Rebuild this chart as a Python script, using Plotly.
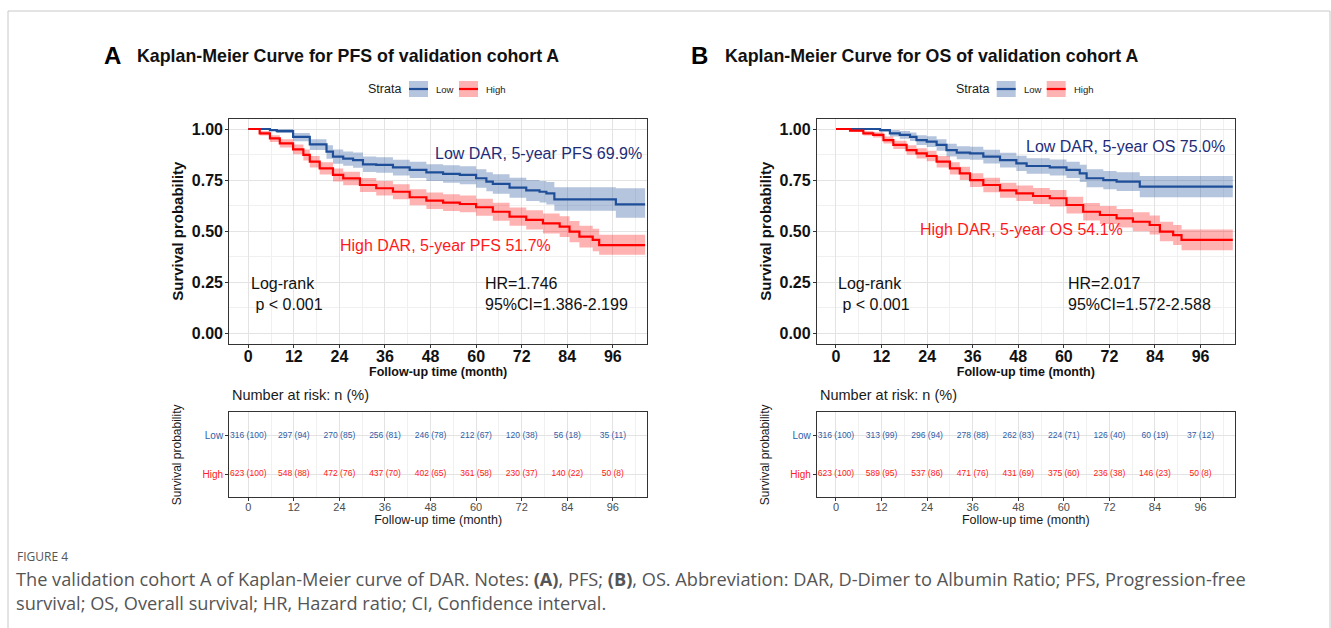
import plotly.graph_objects as go

W, H = 1331, 628

# ---------------- Kaplan-Meier estimates (months, survival probability) ----------------
# Panel A: progression-free survival
pfs_low_time = [0, 5.7, 7.5, 11.8, 16.2, 20.6, 22.3, 25, 27.6, 30.2, 33.7, 38.1, 42.5, 46.9,
                51.3, 55.7, 60, 62.7, 64.4, 68.8, 73.2, 76.7, 78.5, 80.6, 96.8, 104.5]
pfs_low_surv = [1.0, 0.995, 0.99, 0.962, 0.925, 0.889, 0.865, 0.855, 0.848, 0.827, 0.824, 0.812,
                0.80, 0.788, 0.78, 0.775, 0.759, 0.742, 0.731, 0.713, 0.70, 0.693, 0.685, 0.656,
                0.631, 0.631]
pfs_low_upper = [1.0, 1.0, 1.0, 0.98, 0.95, 0.92, 0.90, 0.89, 0.885, 0.865, 0.862, 0.85, 0.84,
                 0.828, 0.822, 0.818, 0.803, 0.788, 0.778, 0.762, 0.751, 0.745, 0.74, 0.715,
                 0.71, 0.71]
pfs_low_lower = [1.0, 0.99, 0.98, 0.94, 0.897, 0.855, 0.83, 0.82, 0.81, 0.79, 0.786, 0.773,
                 0.76, 0.746, 0.737, 0.73, 0.713, 0.695, 0.683, 0.663, 0.648, 0.64, 0.63, 0.60,
                 0.566, 0.566]

pfs_high_time = [0, 3, 5.7, 8.3, 11.8, 14.5, 16.2, 18.8, 22.3, 25, 29.4, 33.7, 38.1, 42.5, 46.9,
                 51.3, 55.7, 60, 64.4, 68.8, 73.2, 77.6, 82, 84.6, 87.2, 90.7, 92.4, 104.5]
pfs_high_surv = [1.0, 0.979, 0.954, 0.93, 0.90, 0.873, 0.84, 0.807, 0.775, 0.758, 0.726, 0.71,
                 0.693, 0.666, 0.649, 0.64, 0.633, 0.617, 0.595, 0.571, 0.555, 0.538, 0.522,
                 0.498, 0.473, 0.457, 0.432, 0.432]
pfs_high_upper = [1.0, 0.99, 0.97, 0.95, 0.924, 0.90, 0.868, 0.837, 0.807, 0.791, 0.76, 0.746,
                  0.73, 0.705, 0.689, 0.681, 0.674, 0.659, 0.639, 0.616, 0.602, 0.587, 0.573,
                  0.55, 0.526, 0.512, 0.482, 0.482]
pfs_high_lower = [1.0, 0.968, 0.937, 0.91, 0.876, 0.846, 0.812, 0.777, 0.743, 0.725, 0.692,
                  0.674, 0.656, 0.627, 0.609, 0.599, 0.592, 0.575, 0.551, 0.526, 0.508, 0.489,
                  0.471, 0.446, 0.42, 0.402, 0.385, 0.385]

# Panel B: overall survival
os_low_time = [0, 11.6, 14.2, 16.8, 19.5, 21.2, 23.9, 26.5, 29.1, 31.8, 35.3, 38.8, 43.2, 47.5,
               50.2, 56.3, 60.7, 64.2, 66, 70.4, 73.9, 80, 104.5]
os_low_surv = [1.0, 0.995, 0.979, 0.971, 0.962, 0.946, 0.938, 0.922, 0.897, 0.884, 0.881, 0.865,
               0.848, 0.832, 0.819, 0.812, 0.80, 0.783, 0.759, 0.75, 0.742, 0.718, 0.718]
os_low_upper = [1.0, 1.0, 0.995, 0.99, 0.983, 0.97, 0.964, 0.95, 0.928, 0.916, 0.913, 0.899,
                0.884, 0.869, 0.857, 0.851, 0.84, 0.825, 0.803, 0.795, 0.788, 0.77, 0.77]
os_low_lower = [1.0, 0.987, 0.963, 0.952, 0.941, 0.922, 0.912, 0.894, 0.866, 0.852, 0.849,
                0.831, 0.812, 0.795, 0.781, 0.773, 0.76, 0.741, 0.715, 0.705, 0.696, 0.666,
                0.666]

os_high_time = [0, 3.7, 7.2, 9.8, 12.5, 15.1, 18.6, 21.2, 23.9, 26.5, 30, 32.6, 35.3, 38.8, 43.2,
                47.5, 51.9, 56.3, 60.7, 65.1, 69.5, 73.9, 78.2, 82.6, 85.3, 88.8, 91, 104.5]
os_high_surv = [1.0, 0.992, 0.979, 0.971, 0.946, 0.922, 0.897, 0.881, 0.868, 0.84, 0.807, 0.783,
                0.75, 0.726, 0.70, 0.685, 0.672, 0.661, 0.628, 0.595, 0.579, 0.563, 0.546, 0.53,
                0.498, 0.481, 0.457, 0.457]
os_high_upper = [1.0, 0.999, 0.99, 0.984, 0.963, 0.942, 0.92, 0.906, 0.894, 0.868, 0.837, 0.815,
                 0.784, 0.761, 0.737, 0.723, 0.711, 0.701, 0.669, 0.638, 0.623, 0.608, 0.592,
                 0.577, 0.546, 0.53, 0.508, 0.508]
os_high_lower = [1.0, 0.985, 0.968, 0.958, 0.929, 0.902, 0.874, 0.856, 0.842, 0.812, 0.777,
                 0.751, 0.716, 0.691, 0.663, 0.647, 0.633, 0.621, 0.587, 0.552, 0.535, 0.518,
                 0.50, 0.483, 0.45, 0.432, 0.406, 0.406]

# ---------------- Number at risk ----------------
risk_times = [0, 12, 24, 36, 48, 60, 72, 84, 96]
pfs_low_n = [316, 297, 270, 256, 246, 212, 120, 56, 35]
pfs_low_pct = [100, 94, 85, 81, 78, 67, 38, 18, 11]
pfs_high_n = [623, 548, 472, 437, 402, 361, 230, 140, 50]
pfs_high_pct = [100, 88, 76, 70, 65, 58, 37, 22, 8]
os_low_n = [316, 313, 296, 278, 262, 224, 126, 60, 37]
os_low_pct = [100, 99, 94, 88, 83, 71, 40, 19, 12]
os_high_n = [623, 589, 537, 471, 431, 375, 236, 146, 50]
os_high_pct = [100, 95, 86, 76, 69, 60, 38, 23, 8]

strata = ["Low", "High"]
y_ticks = [0, 0.25, 0.5, 0.75, 1.0]
y_tick_labels = ["0.00", "0.25", "0.50", "0.75", "1.00"]

# ---------------- Styling ----------------
FONT = "Liberation Sans, Arial, Helvetica, sans-serif"
CAP_FONT = "Open Sans, Noto Sans, sans-serif"
BLUE = "#1F4E99"
BLUE_FILL = "rgba(31,78,153,0.33)"
RED = "#FF0000"
RED_FILL = "rgba(255,0,0,0.30)"
BLUE_TXT = "#1E2C78"
RED_TXT = "#FF1A1A"
RISK_BLUE = "#2F5DA8"
RISK_RED = "#FF2020"
GRID = "#E3E3E3"
GRID_MINOR = "#F0F0F0"
FRAME = "#333333"

panel_dx = 587.7  # horizontal offset of panel B relative to panel A (px)


def px_x(p):
    return p / W


def px_y(p):
    return 1 - p / H


main_x_dom = (229.3, 647.0)
main_y_dom = (118.8, 343.5)
risk_y_dom = (412.3, 497.3)

panels = [
    dict(
        main=("x", "y"), risk=("x2", "y2"), dx=0.0,
        letter="A", title="Kaplan-Meier Curve for PFS of validation cohort A",
        low=(pfs_low_time, pfs_low_surv, pfs_low_lower, pfs_low_upper),
        high=(pfs_high_time, pfs_high_surv, pfs_high_lower, pfs_high_upper),
        low_risk=(pfs_low_n, pfs_low_pct), high_risk=(pfs_high_n, pfs_high_pct),
        low_label=("Low DAR, 5-year PFS 69.9%", 48.6, 0.882),
        high_label=("High DAR, 5-year PFS 51.7%", 23.7, 0.432),
        logrank_x=0.3, hr_x=61.9,
        hr_text="HR=1.746<br>95%CI=1.386-2.199",
    ),
    dict(
        main=("x3", "y3"), risk=("x4", "y4"), dx=panel_dx,
        letter="B", title="Kaplan-Meier Curve for OS of validation cohort A",
        low=(os_low_time, os_low_surv, os_low_lower, os_low_upper),
        high=(os_high_time, os_high_surv, os_high_lower, os_high_upper),
        low_risk=(os_low_n, os_low_pct), high_risk=(os_high_n, os_high_pct),
        low_label=("Low DAR, 5-year OS 75.0%", 49.5, 0.913),
        high_label=("High DAR, 5-year OS 54.1%", 21.6, 0.506),
        logrank_x=0.0, hr_x=60.7,
        hr_text="HR=2.017<br>95%CI=1.572-2.588",
    ),
]

fig = go.Figure()
annotations = []
shapes = []
layout_axes = {}


def axis_key(ref, kind):
    # "x" -> "xaxis", "x3" -> "xaxis3"
    return kind + "axis" + ref[1:]


for p in panels:
    xm, ym = p["main"]
    xr, yr = p["risk"]
    dx = p["dx"]

    # confidence bands, then survival curves
    for (t, s, lo, up), line_c, fill_c in ((p["low"], BLUE, BLUE_FILL), (p["high"], RED, RED_FILL)):
        fig.add_trace(go.Scatter(x=t, y=lo, xaxis=xm, yaxis=ym, mode="lines", line_shape="hv",
                                 line=dict(width=0, color=fill_c), showlegend=False,
                                 hoverinfo="skip"))
        fig.add_trace(go.Scatter(x=t, y=up, xaxis=xm, yaxis=ym, mode="lines", line_shape="hv",
                                 line=dict(width=0, color=fill_c), fill="tonexty",
                                 fillcolor=fill_c, showlegend=False, hoverinfo="skip"))
    for (t, s, lo, up), line_c in ((p["low"], BLUE), (p["high"], RED)):
        fig.add_trace(go.Scatter(x=t, y=s, xaxis=xm, yaxis=ym, mode="lines", line_shape="hv",
                                 line=dict(width=2.2, color=line_c), showlegend=False))

    # number-at-risk table
    for (n, pct), row, col in ((p["low_risk"], 2, RISK_BLUE), (p["high_risk"], 1, RISK_RED)):
        fig.add_trace(go.Scatter(
            x=risk_times, y=[row] * len(risk_times), xaxis=xr, yaxis=yr, mode="text",
            text=[f"{a} ({b})" for a, b in zip(n, pct)],
            textfont=dict(family=FONT, size=8.5, color=col), showlegend=False,
            hoverinfo="skip"))

    xdom = [px_x(main_x_dom[0] + dx), px_x(main_x_dom[1] + dx)]
    common_x = dict(
        domain=xdom, range=[-5, 105], tickmode="array", tickvals=risk_times,
        showgrid=True, gridcolor=GRID, gridwidth=1, zeroline=False,
        minor=dict(dtick=6, tick0=0, showgrid=True, gridcolor=GRID_MINOR, gridwidth=0.7),
        showline=True, mirror=True, linecolor=FRAME, linewidth=1.3,
        ticks="outside", ticklen=3, tickcolor=FRAME,
    )
    layout_axes[axis_key(xm, "x")] = dict(
        common_x, anchor=ym, ticklabelstandoff=-5,
        tickfont=dict(family=FONT, size=16, color="#111111", weight="bold"),
        title=dict(text="Follow-up time (month)", standoff=0,
                   font=dict(family=FONT, size=12.5, color="#111111", weight="bold")),
    )
    layout_axes[axis_key(ym, "y")] = dict(
        domain=[px_y(main_y_dom[1]), px_y(main_y_dom[0])], anchor=xm,
        range=[-0.05, 1.05], tickmode="array", tickvals=y_ticks, ticktext=y_tick_labels,
        showgrid=True, gridcolor=GRID, gridwidth=1, zeroline=False,
        minor=dict(dtick=0.125, tick0=0, showgrid=True, gridcolor=GRID_MINOR, gridwidth=0.7),
        showline=True, mirror=True, linecolor=FRAME, linewidth=1.3,
        ticks="outside", ticklen=3, tickcolor=FRAME, ticklabelstandoff=-1,
        tickfont=dict(family=FONT, size=16, color="#111111", weight="bold"),
        title=dict(text="Survival probability", standoff=4,
                   font=dict(family=FONT, size=15, color="#111111", weight="bold")),
    )
    layout_axes[axis_key(xr, "x")] = dict(
        common_x, anchor=yr, ticklabelstandoff=-4,
        tickfont=dict(family=FONT, size=11, color="#4D4D4D"),
        title=dict(text="Follow-up time (month)", standoff=0,
                   font=dict(family=FONT, size=12.5, color="#1A1A1A")),
    )
    layout_axes[axis_key(yr, "y")] = dict(
        domain=[px_y(risk_y_dom[1]), px_y(risk_y_dom[0])], anchor=xr,
        range=[0.4, 2.6], tickmode="array", tickvals=[2, 1],
        ticktext=[f"<span style='color:{RISK_BLUE}'>{strata[0]}</span>",
                  f"<span style='color:{RISK_RED}'>{strata[1]}</span>"],
        showgrid=True, gridcolor=GRID, gridwidth=1, zeroline=False,
        showline=True, mirror=True, linecolor=FRAME, linewidth=1.3,
        ticks="outside", ticklen=3, tickcolor=FRAME,
        tickfont=dict(family=FONT, size=10),
        title=dict(text="Survival probability", standoff=18,
                   font=dict(family=FONT, size=12, color="#1A1A1A")),
    )

    # text labels inside the survival plot
    lt, lx, ly = p["low_label"]
    annotations.append(dict(x=lx, y=ly, xref=xm, yref=ym, text=lt, showarrow=False,
                            xanchor="left", yanchor="middle",
                            font=dict(family=FONT, size=16, color=BLUE_TXT)))
    ht, hx, hy = p["high_label"]
    annotations.append(dict(x=hx, y=hy, xref=xm, yref=ym, text=ht, showarrow=False,
                            xanchor="left", yanchor="middle",
                            font=dict(family=FONT, size=16, color=RED_TXT)))
    annotations.append(dict(x=p["logrank_x"], y=0.193, xref=xm, yref=ym,
                            text="Log-rank<br> p < 0.001", showarrow=False, align="left",
                            xanchor="left", yanchor="middle",
                            font=dict(family=FONT, size=16, color="#111111")))
    annotations.append(dict(x=p["hr_x"], y=0.193, xref=xm, yref=ym, text=p["hr_text"],
                            showarrow=False, align="left", xanchor="left", yanchor="middle",
                            font=dict(family=FONT, size=16, color="#111111")))

    # panel letter and title
    annotations.append(dict(x=px_x(112 + dx), y=px_y(56), xref="paper", yref="paper",
                            text="<b>" + p["letter"] + "</b>", showarrow=False,
                            xanchor="center", yanchor="middle",
                            font=dict(family=FONT, size=24, color="#000000")))
    annotations.append(dict(x=px_x(135 + dx), y=px_y(56), xref="paper", yref="paper",
                            text="<b>" + p["title"] + "</b>", showarrow=False,
                            xanchor="left", yanchor="middle",
                            font=dict(family=FONT, size=17.8, color="#111111")))

    # strata key
    annotations.append(dict(x=px_x(403 + dx), y=px_y(89), xref="paper", yref="paper",
                            text="Strata", showarrow=False, xanchor="right", yanchor="middle",
                            font=dict(family=FONT, size=12.5, color="#1A1A1A")))
    for (bx0, bx1), fc, lc, label, tx in (((409, 428), BLUE_FILL, BLUE, strata[0], 434),
                                         ((459, 478), RED_FILL, RED, strata[1], 484)):
        shapes.append(dict(type="rect", xref="paper", yref="paper",
                           x0=px_x(bx0 + dx), x1=px_x(bx1 + dx), y0=px_y(97), y1=px_y(81),
                           fillcolor=fc, line=dict(width=0)))
        shapes.append(dict(type="line", xref="paper", yref="paper",
                           x0=px_x(bx0 + dx), x1=px_x(bx1 + dx), y0=px_y(89), y1=px_y(89),
                           line=dict(color=lc, width=2.2)))
        annotations.append(dict(x=px_x(tx + dx), y=px_y(89), xref="paper", yref="paper",
                                text=label, showarrow=False, xanchor="left", yanchor="middle",
                                font=dict(family=FONT, size=9.5, color="#1A1A1A")))

    # risk table heading
    annotations.append(dict(x=px_x(230 + dx), y=px_y(395), xref="paper", yref="paper",
                            text="Number at risk: n (%)", showarrow=False, xanchor="left",
                            yanchor="middle",
                            font=dict(family=FONT, size=14.5, color="#1A1A1A")))

# figure caption
annotations.append(dict(x=px_x(15), y=px_y(556), xref="paper", yref="paper", text="FIGURE 4",
                        showarrow=False, xanchor="left", yanchor="middle",
                        font=dict(family=CAP_FONT, size=12, color="#555555")))
annotations.append(dict(
    x=px_x(14), y=px_y(590.5), xref="paper", yref="paper", showarrow=False,
    xanchor="left", yanchor="middle", align="left",
    text=("The validation cohort A of Kaplan-Meier curve of DAR. Notes: <b>(A)</b>, PFS; "
          "<b>(B)</b>, OS. Abbreviation: DAR, D-Dimer to Albumin Ratio; PFS, Progression-free"
          "<br>survival; OS, Overall survival; HR, Hazard ratio; CI, Confidence interval."),
    font=dict(family=CAP_FONT, size=18.2, color="#555555")))

# outer frame of the figure
shapes.append(dict(type="rect", xref="paper", yref="paper", x0=px_x(8), x1=px_x(1330),
                   y0=-0.05, y1=px_y(11), line=dict(color="#C8C8C8", width=1),
                   fillcolor="rgba(0,0,0,0)", layer="below"))

fig.update_layout(
    width=W, height=H, margin=dict(l=0, r=0, t=0, b=0),
    paper_bgcolor="white", plot_bgcolor="white",
    showlegend=False, annotations=annotations, shapes=shapes,
    font=dict(family=FONT),
    **layout_axes,
)

fig.write_html("out.html", config={"displayModeBar": False})
